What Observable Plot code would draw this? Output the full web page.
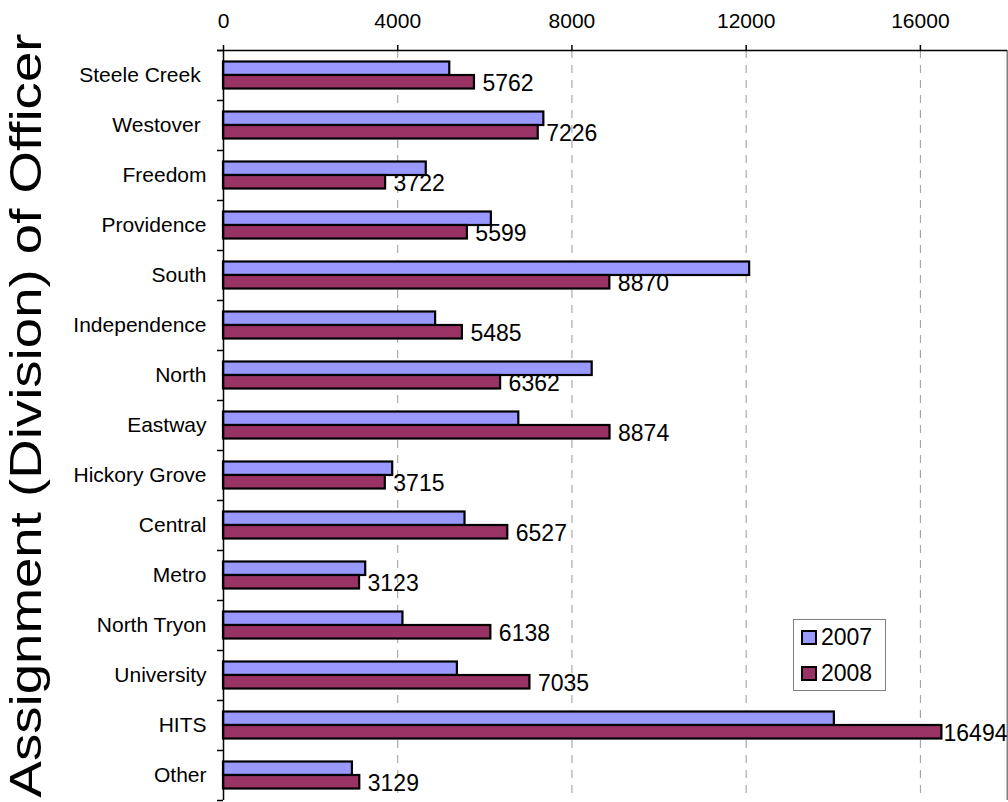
<!DOCTYPE html>
<html><head><meta charset="utf-8">
<script src="https://cdn.jsdelivr.net/npm/d3@7"></script>
<script src="https://cdn.jsdelivr.net/npm/@observablehq/plot@0.6"></script>
<style>
html,body{margin:0;padding:0;background:#fff;}
#chart{position:relative;width:1008px;height:802px;font-family:Arial,"Liberation Sans",sans-serif;}
#chart svg text{white-space:pre;}
.legend-box{position:absolute;left:793px;top:619px;width:93px;height:72px;border:1.5px solid #808080;background:#fff;box-sizing:border-box;}
.legend-sw{position:absolute;width:16px;height:15px;border:2px solid #000;box-sizing:border-box;}
.legend-lb{position:absolute;font-size:23px;line-height:23px;color:#000;}
</style></head><body><div id="chart"></div>
<script>
const categories = ["Steele Creek ", "Westover ", "Freedom", "Providence", "South", "Independence", "North", "Eastway", "Hickory Grove", "Central", "Metro", "North Tryon", "University", "HITS", "Other"];
const years = ["2007", "2008"];
const values2007 = [5195, 7355, 4655, 6150, 12080, 4870, 8465, 6780, 3885, 5545, 3265, 4120, 5370, 14025, 2960];
const values2008 = [5762, 7226, 3722, 5599, 8870, 5485, 6362, 8874, 3715, 6527, 3123, 6138, 7035, 16494, 3129];
const xTicks = [0, 4000, 8000, 12000, 16000];
const xMax = 18000;
const yAxisTitle = "Assignment (Division) of Officer";
const colors = ["#9999FF", "#993366"];

const rows = categories.map((c, i) => ({cat: c, v2007: values2007[i], v2008: values2008[i]}));
const fits = d => d.v2008 < 16000;
const axisStroke = {stroke: "#000", strokeWidth: 1.5};

const plot = Plot.plot({
  width: 1008, height: 802,
  marginTop: 50, marginBottom: 2, marginLeft: 223, marginRight: 1,
  style: {fontFamily: "Arial, 'Liberation Sans', sans-serif", background: "#fff", color: "#000", overflow: "visible"},
  x: {domain: [0, xMax], axis: null},
  y: {domain: categories, padding: 0, axis: null},
  color: {domain: years, range: colors},
  marks: [
    Plot.ruleX(xTicks.filter(t => t > 0), {stroke: "#999", strokeWidth: 1, strokeDasharray: "8,7"}),
    Plot.ruleX([xMax], {stroke: "#808080", strokeWidth: 2}),
    Plot.barX(rows, {y: "cat", x: "v2007", fill: () => years[0], stroke: "#000", strokeWidth: 2.2, insetTop: 11.5, insetBottom: 25}),
    Plot.barX(rows, {y: "cat", x: "v2008", fill: () => years[1], stroke: "#000", strokeWidth: 2.2, insetTop: 25, insetBottom: 11.5}),
    Plot.ruleX([0], axisStroke),
    Plot.ruleY(categories, {y: d => d, dy: -25, x1: 0, x2: 0, insetLeft: -6, ...axisStroke}),
    Plot.ruleY([categories[categories.length - 1]], {y: d => d, dy: 25, x1: 0, x2: 0, insetLeft: -6, ...axisStroke}),
    Plot.ruleY([categories[0]], {y: d => d, dy: -25, insetLeft: -6, ...axisStroke}),
    Plot.axisX({anchor: "top", ticks: xTicks, tickSize: 6, tickPadding: 17, tickFormat: d => String(d), fontSize: 21, label: null, strokeWidth: 1.5}),
    Plot.axisY({anchor: "left", tickSize: 0, tickPadding: 17, fontSize: 21, label: null}),
    Plot.text(rows.filter(fits), {x: "v2008", y: "cat", text: d => String(d.v2008), dx: 8, dy: 8, textAnchor: "start", fontSize: 23, fill: "#000"}),
    Plot.text(rows.filter(d => !fits(d)), {y: "cat", text: d => String(d.v2008), frameAnchor: "right", textAnchor: "end", dy: 8, fontSize: 23, fill: "#000"}),
    Plot.text([yAxisTitle], {text: d => d, frameAnchor: "left", textAnchor: "middle", lineAnchor: "middle", dx: -197, dy: -10, rotate: -90, fontSize: 44, fill: "#000"})
  ]
});

plot.querySelectorAll("text").forEach(t => {
  if (t.textContent === yAxisTitle) {
    t.setAttribute("textLength", "764");
    t.setAttribute("lengthAdjust", "spacingAndGlyphs");
  }
});

const chart = document.getElementById("chart");
chart.appendChild(plot);

const box = document.createElement("div");
box.className = "legend-box";
chart.appendChild(box);
years.forEach((yr, i) => {
  const sw = document.createElement("div");
  sw.className = "legend-sw";
  sw.style.left = "801px";
  sw.style.top = (630 + i * 35.5) + "px";
  sw.style.background = colors[i];
  chart.appendChild(sw);
  const lb = document.createElement("div");
  lb.className = "legend-lb";
  lb.style.left = "821px";
  lb.style.top = (626 + i * 35.5) + "px";
  lb.textContent = yr;
  chart.appendChild(lb);
});
</script>
</body></html>
